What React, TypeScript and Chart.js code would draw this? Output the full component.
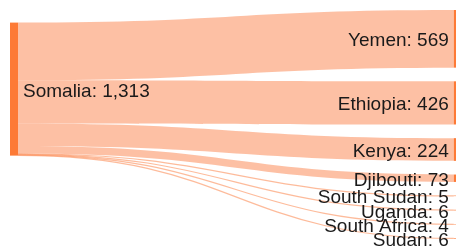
import React, { useEffect, useRef } from "react";
import { Chart, registerables } from "chart.js";

Chart.register(...registerables);

// ---- data ----
const sourceNodes = ["Somalia"];
const targetNodes = [
  "Yemen",
  "Ethiopia",
  "Kenya",
  "Djibouti",
  "South Sudan",
  "Uganda",
  "South Africa",
  "Sudan",
];
const flowValues = [569, 426, 224, 73, 5, 6, 4, 6];

// ---- layout / style ----
const NODE_PAD = 135; // gap between nodes, in value units
const Y_MAX = 2359;
const X_MAX = 1.005;
const NODE_WIDTH = 8;
const LABEL_GAP = 5;
const NODE_COLOR = "#fd7a36";
const LINK_COLOR = "rgba(252,141,89,0.55)";
const THIN_LINK_COLOR = "rgba(252,141,89,0.6)";
const TEXT_COLOR = "#1a1a1a";
const FONT = "19px 'Liberation Sans', Arial, sans-serif";

const fmt = (v: number) => v.toLocaleString("en-US");

const sankeyPlugin = {
  id: "sankeyDraw",
  afterDatasetsDraw(chart: any) {
    const { ctx } = chart;
    const x = chart.scales.x;
    const y = chart.scales.y;

    // layout in value units: targets stacked with padding
    const targets: { name: string; v: number; y0: number; y1: number }[] = [];
    let cursor = 0;
    targetNodes.forEach((name, i) => {
      const v = flowValues[i];
      targets.push({ name, v, y0: cursor, y1: cursor + v });
      cursor += v + NODE_PAD;
    });
    const total = flowValues.reduce((a, b) => a + b, 0);
    const center =
      targets.reduce((s, t) => s + (t.v * (t.y0 + t.y1)) / 2, 0) / total;
    const src = {
      name: sourceNodes[0],
      v: total,
      y0: center - total / 2,
      y1: center + total / 2,
    };

    const xs0 = x.getPixelForValue(0);
    const xs1 = x.getPixelForValue(1);
    const xa = xs0 + NODE_WIDTH;
    const xb = xs1;
    const xm = (xa + xb) / 2;

    ctx.save();

    // links
    let off = src.y0;
    targets.forEach((t) => {
      const sy0 = y.getPixelForValue(off);
      const sy1 = y.getPixelForValue(off + t.v);
      const ty0 = y.getPixelForValue(t.y0);
      const ty1 = y.getPixelForValue(t.y1);
      off += t.v;
      const h = sy1 - sy0;
      if (h >= 1) {
        ctx.beginPath();
        ctx.moveTo(xa, sy0);
        ctx.bezierCurveTo(xm, sy0, xm, ty0, xb, ty0);
        ctx.lineTo(xb, ty1);
        ctx.bezierCurveTo(xm, ty1, xm, sy1, xa, sy1);
        ctx.closePath();
        ctx.fillStyle = LINK_COLOR;
        ctx.fill();
      } else {
        const ys = (sy0 + sy1) / 2;
        const yt = (ty0 + ty1) / 2;
        ctx.beginPath();
        ctx.moveTo(xa, ys);
        ctx.bezierCurveTo(xm, ys, xm, yt, xb, yt);
        ctx.lineWidth = 1.2;
        ctx.strokeStyle = THIN_LINK_COLOR;
        ctx.stroke();
      }
    });

    // nodes
    ctx.fillStyle = NODE_COLOR;
    const sTop = y.getPixelForValue(src.y0);
    const sBot = y.getPixelForValue(src.y1);
    ctx.fillRect(xs0, sTop, NODE_WIDTH, sBot - sTop);
    targets.forEach((t) => {
      const t0 = y.getPixelForValue(t.y0);
      const t1 = y.getPixelForValue(t.y1);
      ctx.fillRect(xs1, t0, NODE_WIDTH, t1 - t0);
    });

    // labels
    ctx.font = FONT;
    ctx.fillStyle = TEXT_COLOR;
    ctx.textBaseline = "alphabetic";
    ctx.textAlign = "left";
    ctx.fillText(
      `${src.name}: ${fmt(src.v)}`,
      xa + LABEL_GAP,
      (sTop + sBot) / 2 + 7.5
    );
    ctx.textAlign = "right";
    targets.forEach((t) => {
      const c = (y.getPixelForValue(t.y0) + y.getPixelForValue(t.y1)) / 2;
      ctx.fillText(`${t.name}: ${fmt(t.v)}`, xs1 - LABEL_GAP, c + 7.5);
    });

    ctx.restore();
  },
};

export default function App() {
  const canvasRef = useRef<HTMLCanvasElement | null>(null);

  useEffect(() => {
    if (!canvasRef.current) return;
    const chart = new Chart(canvasRef.current, {
      type: "scatter",
      data: { datasets: [{ data: [], pointRadius: 0 }] },
      options: {
        responsive: false,
        animation: false,
        layout: { padding: { left: 10, top: 10, right: 0, bottom: 0 } },
        scales: {
          x: { type: "linear", min: 0, max: X_MAX, display: false },
          y: { type: "linear", min: 0, max: Y_MAX, reverse: true, display: false },
        },
        plugins: {
          legend: { display: false },
          tooltip: { enabled: false },
        },
      },
      plugins: [sankeyPlugin],
    });
    return () => chart.destroy();
  }, []);

  return (
    <div style={{ position: "fixed", left: 0, top: 0, width: 456, height: 249 }}>
      <canvas ref={canvasRef} width={456} height={249} style={{ display: "block" }} />
    </div>
  );
}
